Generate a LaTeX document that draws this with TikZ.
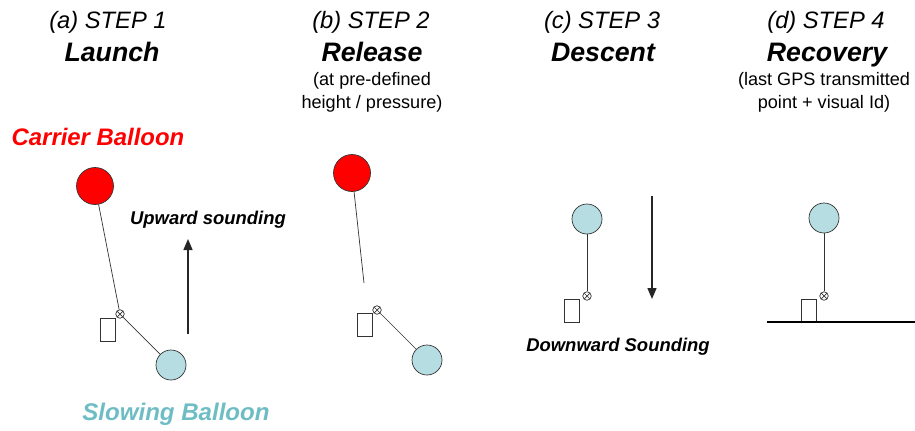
\documentclass[tikz,border=0pt]{standalone}
\usepackage{fontspec}
\setmainfont{Liberation Sans}
\usetikzlibrary{arrows.meta}
\definecolor{CarrierRed}{HTML}{FF0000}
\definecolor{SlowFill}{HTML}{B6DEE2}
\definecolor{SlowText}{HTML}{6FBDC4}
\definecolor{LineGrey}{HTML}{333333}

\tikzset{
  carrier/.style={circle, draw=LineGrey, thin, fill=CarrierRed, minimum size=0.74cm, inner sep=0pt},
  slowing/.style={circle, draw=LineGrey, thin, fill=SlowFill, minimum size=0.6cm, inner sep=0pt},
  sonde/.style={rectangle, draw=LineGrey, thin, fill=white, minimum width=0.3cm, minimum height=0.46cm, inner sep=0pt},
  knot/.style={circle, draw=LineGrey, thin, fill=white, minimum size=0.17cm, inner sep=0pt,
    path picture={\draw[LineGrey, thin] (path picture bounding box.south west) -- (path picture bounding box.north east)
      (path picture bounding box.north west) -- (path picture bounding box.south east);}},
  tether/.style={LineGrey, thin},
  steptitle/.style={font=\fontsize{13.5}{16}\selectfont\itshape},
  stepname/.style={font=\fontsize{15.2}{18}\selectfont\bfseries\itshape, anchor=base},
  stepnote/.style={font=\fontsize{10.3}{13}\selectfont, align=center},
  motion/.style={font=\fontsize{10.5}{12}\selectfont\bfseries\itshape},
  sounding/.style={-{Triangle[length=2.2mm, width=1.8mm]}, thick, black!85}
}

\begin{document}
\begin{tikzpicture}[x=0.02cm, y=-0.02cm]
  \useasboundingbox (0,0) rectangle (915,430);
  % Titles
  \node[steptitle] (titleA) at (108,22) {(a) STEP 1};
  \node[stepname] (nameA) at (112,61) {Launch};
  \node[steptitle] (titleB) at (371,22) {(b) STEP 2};
  \node[stepname] (nameB) at (372,61) {Release};
  \node[stepnote] (noteB) at (372,92) {(at pre-defined\\height / pressure)};
  \node[steptitle] (titleC) at (602,22) {(c) STEP 3};
  \node[stepname] (nameC) at (603,61) {Descent};
  \node[steptitle] (titleD) at (826,22) {(d) STEP 4};
  \node[stepname] (nameD) at (827,61) {Recovery};
  \node[stepnote] (noteD) at (824,92) {(last GPS transmitted\\point + visual Id)};

  % Step 1: launch
  \node[font=\fontsize{13.6}{16}\selectfont\bfseries\itshape, text=CarrierRed] (carrierLabel) at (98,137) {Carrier Balloon};
  \node[carrier] (carrierA) at (95,186) {};
  \node[knot] (knotA) at (120,314) {};
  \node[sonde] (sondeA) at (107.5,329.5) {};
  \node[slowing] (slowA) at (171,365) {};
  \draw[tether] (carrierA) -- (knotA);
  \draw[tether] (knotA) -- (slowA);
  \coordinate (upStart) at (188,334);
  \coordinate (upEnd) at (188,239);
  \draw[sounding] (upStart) -- (upEnd);
  \node[motion] (upLabel) at (208,220) {Upward sounding};
  \node[font=\fontsize{13.7}{16}\selectfont\bfseries\itshape, text=SlowText] (slowLabel) at (176,414) {Slowing Balloon};

  % Step 2: release
  \node[carrier] (carrierB) at (352,173) {};
  \coordinate (cutB) at (364,283);
  \node[knot] (knotB) at (377,310) {};
  \node[sonde] (sondeB) at (364.5,324.5) {};
  \node[slowing] (slowB) at (427,360) {};
  \draw[tether] (carrierB) -- (cutB);
  \draw[tether] (knotB) -- (slowB);

  % Step 3: descent
  \node[slowing] (slowC) at (587,219) {};
  \node[knot] (knotC) at (587,296) {};
  \node[sonde] (sondeC) at (572,310.5) {};
  \draw[tether] (slowC) -- (knotC);
  \coordinate (downStart) at (652,196);
  \coordinate (downEnd) at (652,299);
  \draw[sounding] (downStart) -- (downEnd);
  \node[motion] (downLabel) at (618,347) {Downward Sounding};

  % Step 4: recovery
  \node[slowing] (slowD) at (824,218) {};
  \node[knot] (knotD) at (824,296) {};
  \node[sonde] (sondeD) at (808.5,310.5) {};
  \draw[tether] (slowD) -- (knotD);
  % ground
  \coordinate (groundL) at (767,322);
  \coordinate (groundR) at (915,322);
  \draw[black, semithick] (groundL) -- (groundR);
\end{tikzpicture}
\end{document}
